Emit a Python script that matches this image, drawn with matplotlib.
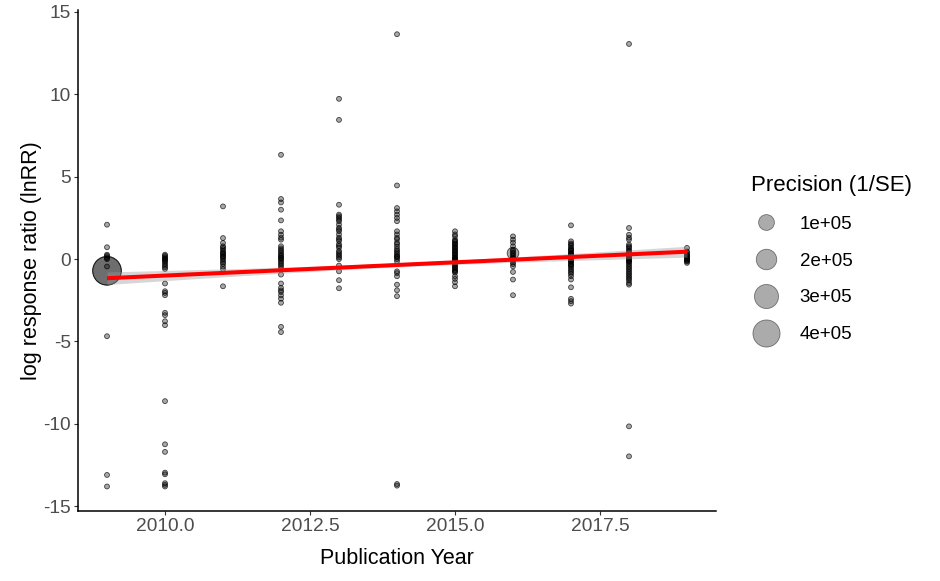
import numpy as np
import matplotlib
matplotlib.use('Agg')
import matplotlib.pyplot as plt
from matplotlib.lines import Line2D

plt.rcParams['font.family'] = ['Liberation Sans', 'DejaVu Sans']
plt.rcParams['axes.unicode_minus'] = False

## lnRR values per publication year
lnrr_2009 = [2.09, 0.72, 0.27, 0.2, 0.12, 0.05, 0.0, -0.45, -4.68, -13.1, -13.8]
lnrr_2010 = [0.27, 0.2, 0.12, 0.05, 0.0, -0.05, -0.12, -0.2, -0.3, -0.4, -0.5, -0.6,
             -1.48, -1.95, -2.05, -2.19, -3.26, -3.4, -3.77, -4.01, -8.62, -11.24,
             -11.7, -12.96, -13.06, -13.6, -13.7, -13.8]
lnrr_2011 = [3.2, 1.28, 0.98, 0.78, 0.7, 0.6, 0.5, 0.4, 0.35, 0.3, 0.2, 0.15, 0.1, 0.0,
             -0.1, -0.2, -0.3, -0.45, -0.6, -1.65]
lnrr_2012 = [6.33, 3.65, 3.44, 3.0, 2.35, 1.69, 1.48, 1.3, 1.18, 0.78, 0.65, 0.55, 0.45,
             0.35, 0.25, 0.2, 0.1, 0.05, 0.0, -0.1, -0.2, -0.3, -0.4, -0.53, -0.94,
             -1.48, -1.75, -1.9, -2.0, -2.2, -2.4, -2.65, -4.11, -4.43]
lnrr_2013 = [9.73, 8.45, 3.3, 2.7, 2.6, 2.5, 2.4, 2.3, 2.1, 1.9, 1.8, 1.7, 1.5, 1.3, 1.2,
             1.1, 0.9, 0.8, 0.7, 0.5, 0.4, 0.3, 0.2, 0.1, 0.0, -0.39, -0.74, -1.28, -1.77]
lnrr_2014 = [13.65, 4.47, 3.1, 2.9, 2.7, 2.5, 2.3, 1.69, 1.5, 1.3, 1.2, 1.0, 0.9, 0.75,
             0.6, 0.5, 0.4, 0.3, 0.2, 0.15, 0.1, 0.0, -0.13, -0.74, -0.85, -1.04, -1.55,
             -1.89, -2.25, -13.65, -13.75]
lnrr_2015 = [1.69, 1.5, 1.38, 1.18, 1.1, 1.05, 0.95, 0.9, 0.85, 0.75, 0.7, 0.65, 0.55, 0.5,
             0.45, 0.35, 0.3, 0.25, 0.15, 0.1, 0.05, 0.0, -0.05, -0.1, -0.15, -0.25, -0.3,
             -0.35, -0.45, -0.5, -0.55, -0.65, -0.7, -0.75, -0.82, -1.04, -1.2, -1.4, -1.65]
lnrr_2016 = [1.38, 1.18, 1.0, 0.78, 0.58, 0.48, 0.38, 0.3, 0.2, 0.1, 0.05, 0.0, -0.05,
             -0.1, -0.2, -0.3, -0.44, -0.78, -1.24, -2.19]
lnrr_2017 = [2.05, 1.08, 0.95, 0.88, 0.78, 0.68, 0.6, 0.55, 0.5, 0.4, 0.35, 0.3, 0.25, 0.2,
             0.1, 0.05, 0.0, -0.05, -0.1, -0.15, -0.2, -0.3, -0.35, -0.4, -0.5, -0.6, -0.7,
             -0.8, -0.9, -1.04, -1.24, -1.71, -2.41, -2.55, -2.7]
lnrr_2018 = [13.06, 1.89, 1.48, 1.3, 1.18, 0.88, 0.78, 0.7, 0.6, 0.5, 0.45, 0.4, 0.3, 0.2,
             0.15, 0.1, 0.05, 0.0, -0.05, -0.1, -0.15, -0.2, -0.3, -0.4, -0.5, -0.6, -0.7,
             -0.8, -0.9, -1.0, -1.1, -1.2, -1.3, -1.45, -1.55, -10.15, -11.97]
lnrr_2019 = [0.68, 0.47, 0.4, 0.3, 0.25, 0.2, 0.15, 0.1, 0.05, 0.0, -0.05, -0.1, -0.15,
             -0.23]

years = list(range(2009, 2020))
lnrr_by_year = [lnrr_2009, lnrr_2010, lnrr_2011, lnrr_2012, lnrr_2013, lnrr_2014,
                lnrr_2015, lnrr_2016, lnrr_2017, lnrr_2018, lnrr_2019]
small_precision = 100  # most effect sizes sit at the bottom of the size scale

# the few effect sizes with a large precision
heavy_years = [2009, 2009, 2016]
heavy_lnrr = [-0.70, -0.72, 0.36]
heavy_precision = [4.6e5, 4.5e5, 4e4]

# lm fit + 95% CI band
fit_years = [2009, 2019]
fit_lnrr = [-1.16, 0.45]
ci_years = list(range(2009, 2020))
ci_half = [0.38, 0.31, 0.24, 0.18, 0.14, 0.12, 0.13, 0.16, 0.21, 0.27, 0.33]

legend_values = [1e5, 2e5, 3e5, 4e5]
legend_labels = ['1e+05', '2e+05', '3e+05', '4e+05']


#------------- helpers ---------------------------------
def dot_px(prec):
    # diameter in pixels, area-like scaling as in ggplot scale_size
    return 4.5 + 11.3*np.sqrt(np.asarray(prec, dtype=float)/1e5)

def dot_area(prec):
    return (dot_px(prec)*0.72)**2


xs, ys, ps = [], [], []
for yr, vals in zip(years, lnrr_by_year):
    for v in vals:
        xs.append(yr)
        ys.append(v)
        ps.append(small_precision)
for yr, v, p in zip(heavy_years, heavy_lnrr, heavy_precision):
    xs.append(yr)
    ys.append(v)
    ps.append(p)

fig = plt.figure(figsize=(9.4, 5.81), dpi=100)
ax = fig.add_axes([78/940, 1-510.7/581, 638/940, 500.7/581])

ax.scatter(xs, ys, s=dot_area(ps), facecolor=(0, 0, 0, 0.34), edgecolor=(0, 0, 0, 0.7),
           linewidth=0.6, zorder=2)

ci_center = np.interp(ci_years, fit_years, fit_lnrr)
ax.fill_between(ci_years, ci_center - np.array(ci_half), ci_center + np.array(ci_half),
                color='#999999', alpha=0.4, linewidth=0, zorder=3)
ax.plot(fit_years, fit_lnrr, color='red', linewidth=2.9, solid_capstyle='butt', zorder=4)

ax.set_xlim(2008.5, 2019.5)
ax.set_ylim(-15.27, 15.12)
ax.set_xticks([2010, 2012.5, 2015, 2017.5])
ax.set_xticklabels(['%.1f' % t for t in [2010, 2012.5, 2015, 2017.5]])
ax.set_yticks([-15, -10, -5, 0, 5, 10, 15])

for side in ['top', 'right']:
    ax.spines[side].set_visible(False)
for side in ['left', 'bottom']:
    ax.spines[side].set_linewidth(1.1)
ax.tick_params(direction='out', length=3.2, width=0.8, color='#333333',
               labelcolor='#4d4d4d', labelsize=13.8, pad=2)

ax.set_xlabel('Publication Year', fontsize=15.5)
ax.set_ylabel('log response ratio (lnRR)', fontsize=15.5)
ax.xaxis.set_label_coords(0.5, -0.075)
ax.yaxis.set_label_coords(-0.057, 0.5)

handles = [Line2D([], [], marker='o', linestyle='', markersize=d*0.72,
                  markerfacecolor=(0, 0, 0, 0.33), markeredgecolor=(0, 0, 0, 0.47),
                  markeredgewidth=0.6)
           for d in dot_px(legend_values)]
fig.legend(handles, legend_labels, title='Precision (1/SE)', loc='upper left',
           bbox_to_anchor=(751/940, 1-175/581), frameon=False, fontsize=13.5,
           title_fontsize=16, alignment='left', borderpad=0, borderaxespad=0,
           labelspacing=1.05, handletextpad=1.0, handlelength=1.6)

fig.savefig('out.png', dpi=100)
